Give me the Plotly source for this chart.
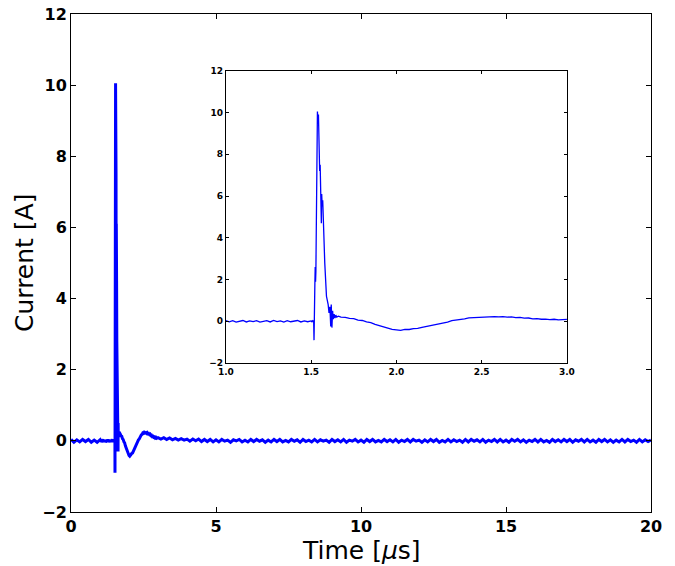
import plotly.graph_objects as go

# time axis in microseconds, current in amperes
t_pre = [0.0, 0.1, 0.2, 0.3, 0.4, 0.5, 0.6, 0.7, 0.8, 0.9,
         1.0, 1.02, 1.04, 1.06, 1.08, 1.10, 1.12, 1.14, 1.16, 1.18,
         1.20, 1.22, 1.24, 1.26, 1.28, 1.30, 1.32, 1.34, 1.36, 1.38,
         1.40, 1.42, 1.44, 1.46, 1.48, 1.50]
i_pre = [0.04, -0.04, 0.03, -0.03, 0.04, -0.02, 0.04, -0.04, 0.02, -0.04,
         0.03, -0.02, 0.03, -0.04, 0.01, 0.04, -0.03, 0.02, -0.01, 0.03,
         -0.04, 0.01, 0.03, -0.03, 0.04, -0.01, 0.02, -0.04, 0.03, -0.02,
         0.01, 0.04, -0.03, 0.02, -0.02, 0.02]

t_pulse = [1.505, 1.51, 1.515, 1.517, 1.522, 1.524, 1.526, 1.528, 1.537, 1.54,
           1.543, 1.546, 1.55, 1.553, 1.556, 1.558, 1.56, 1.562, 1.565, 1.568,
           1.572, 1.58, 1.59, 1.60, 1.605, 1.61, 1.615, 1.618, 1.622, 1.626,
           1.63, 1.635, 1.64, 1.645, 1.65, 1.66]
i_pulse = [-0.02, 0.03, 0.0, -0.9, 1.8, 2.6, 1.9, 2.4, 10.05, 9.6,
           9.9, 8.5, 7.2, 7.5, 5.0, 6.0, 4.7, 6.1, 5.5, 5.8,
           4.5, 2.8, 1.2, 0.8, 0.4, 0.7, -0.25, 0.8, -0.3, 0.5,
           0.1, 0.35, 0.15, 0.3, 0.2, 0.25]

t_decay = [1.675, 1.70, 1.725, 1.75, 1.775, 1.80, 1.825, 1.85, 1.875,
           1.90, 1.925, 1.95, 1.975, 2.00, 2.025, 2.05, 2.075, 2.10, 2.125,
           2.15, 2.175, 2.20, 2.225, 2.25, 2.275, 2.30, 2.325, 2.35, 2.375,
           2.40, 2.425, 2.45, 2.475, 2.50, 2.525, 2.55, 2.575, 2.60, 2.625,
           2.65, 2.675, 2.70, 2.725, 2.75, 2.775, 2.80, 2.825, 2.85, 2.875,
           2.90, 2.925, 2.95, 2.975]
i_decay = [0.20, 0.19, 0.14, 0.13, 0.06, 0.04, -0.03, -0.06, -0.14,
           -0.19, -0.26, -0.32, -0.39, -0.41, -0.43, -0.39, -0.39, -0.35, -0.34,
           -0.29, -0.25, -0.21, -0.15, -0.13, -0.06, -0.04, 0.03, 0.05, 0.10,
           0.12, 0.17, 0.18, 0.22, 0.21, 0.24, 0.22, 0.23, 0.21, 0.23,
           0.20, 0.21, 0.18, 0.19, 0.15, 0.16, 0.12, 0.13, 0.10, 0.11,
           0.08, 0.10, 0.07, 0.08]

t_tail = [3.0, 3.1, 3.2, 3.3, 3.4, 3.5, 3.6, 3.7, 3.8, 3.9,
          4.0, 4.1, 4.2, 4.3, 4.4, 4.5, 4.6, 4.7, 4.8, 4.9,
          5.0, 5.1, 5.2, 5.3, 5.4, 5.5, 5.6, 5.7, 5.8, 5.9,
          6.0, 6.1, 6.2, 6.3, 6.4, 6.5, 6.6, 6.7, 6.8, 6.9,
          7.0, 7.1, 7.2, 7.3, 7.4, 7.5, 7.6, 7.7, 7.8, 7.9,
          8.0, 8.1, 8.2, 8.3, 8.4, 8.5, 8.6, 8.7, 8.8, 8.9,
          9.0, 9.1, 9.2, 9.3, 9.4, 9.5, 9.6, 9.7, 9.8, 9.9,
          10.0, 10.1, 10.2, 10.3, 10.4, 10.5, 10.6, 10.7, 10.8, 10.9,
          11.0, 11.1, 11.2, 11.3, 11.4, 11.5, 11.6, 11.7, 11.8, 11.9,
          12.0, 12.1, 12.2, 12.3, 12.4, 12.5, 12.6, 12.7, 12.8, 12.9,
          13.0, 13.1, 13.2, 13.3, 13.4, 13.5, 13.6, 13.7, 13.8, 13.9,
          14.0, 14.1, 14.2, 14.3, 14.4, 14.5, 14.6, 14.7, 14.8, 14.9,
          15.0, 15.1, 15.2, 15.3, 15.4, 15.5, 15.6, 15.7, 15.8, 15.9,
          16.0, 16.1, 16.2, 16.3, 16.4, 16.5, 16.6, 16.7, 16.8, 16.9,
          17.0, 17.1, 17.2, 17.3, 17.4, 17.5, 17.6, 17.7, 17.8, 17.9,
          18.0, 18.1, 18.2, 18.3, 18.4, 18.5, 18.6, 18.7, 18.8, 18.9,
          19.0, 19.1, 19.2, 19.3, 19.4, 19.5, 19.6, 19.7, 19.8, 19.9,
          20.0]
i_tail = [0.09, 0.05, 0.09, 0.04, 0.08, 0.03, 0.07, 0.02, 0.06, 0.02,
          0.05, -0.01, 0.05, 0.00, 0.05, -0.02, 0.04, -0.02, 0.04, -0.03,
          0.03, -0.03, 0.04, -0.01, 0.02, -0.04, 0.03, 0.00, 0.04, -0.03,
          0.02, -0.03, 0.04, -0.02, 0.04, -0.01, 0.03, -0.04, 0.02, -0.03,
          0.04, -0.02, 0.04, -0.03, 0.01, -0.03, 0.04, -0.01, 0.03, -0.04,
          0.04, -0.02, 0.02, -0.03, 0.04, -0.03, 0.03, -0.01, 0.02, -0.04,
          0.04, -0.02, 0.03, -0.03, 0.04, -0.04, 0.02, -0.01, 0.04, -0.03,
          0.02, -0.04, 0.04, -0.02, 0.04, -0.03, 0.01, -0.03, 0.04, -0.02,
          0.03, -0.03, 0.04, -0.04, 0.02, -0.02, 0.04, -0.03, 0.04, -0.01,
          0.02, -0.04, 0.03, -0.03, 0.04, -0.02, 0.04, -0.04, 0.01, -0.03,
          0.04, -0.03, 0.03, -0.02, 0.02, -0.04, 0.04, -0.03, 0.04, -0.01,
          0.03, -0.03, 0.04, -0.04, 0.02, -0.02, 0.04, -0.03, 0.04, -0.03,
          0.02, -0.04, 0.04, -0.01, 0.04, -0.03, 0.03, -0.04, 0.02, -0.02,
          0.04, -0.03, 0.04, -0.03, 0.01, -0.04, 0.04, -0.02, 0.03, -0.03,
          0.04, -0.02, 0.04, -0.04, 0.03, -0.01, 0.04, -0.03, 0.04, -0.03,
          0.02, -0.04, 0.04, -0.02, 0.04, -0.03, 0.03, -0.04, 0.02, -0.03,
          0.04, -0.03, 0.04, -0.02, 0.02, -0.04, 0.04, -0.03, 0.03, -0.02,
          0.02]

main_xticks = [0, 5, 10, 15, 20]
inset_xticks = [1.0, 1.5, 2.0, 2.5, 3.0]
yticks = [-2, 0, 2, 4, 6, 8, 10, 12]

t_us = t_pre + t_pulse + t_decay + t_tail
current_a = i_pre + i_pulse + i_decay + i_tail

blue = "#0000ff"
fig = go.Figure()
fig.add_trace(go.Scatter(x=t_us, y=current_a, mode="lines",
                         line=dict(color=blue, width=3), xaxis="x", yaxis="y"))
fig.add_trace(go.Scatter(x=t_us, y=current_a, mode="lines",
                         line=dict(color=blue, width=1.3), xaxis="x2", yaxis="y2"))

frame = dict(showline=True, linecolor="black", linewidth=1, mirror="ticks",
             ticks="inside", ticklen=5, tickcolor="black", showgrid=False,
             zeroline=False, automargin=False, ticklabeloverflow="allow")
big = dict(family="DejaVu Sans", size=16, color="black", weight="bold")
small = dict(family="DejaVu Sans", size=9, color="black", weight="bold")
label_font = dict(family="DejaVu Sans", size=25, color="black")

fig.update_layout(
    width=675, height=566,
    margin=dict(l=71, r=24, t=14, b=54),
    paper_bgcolor="white", plot_bgcolor="white",
    showlegend=False,
    xaxis=dict(frame, range=[0, 20], tickvals=main_xticks, tickfont=big,
               domain=[0, 1], anchor="y"),
    yaxis=dict(frame, range=[-2, 12], tickvals=yticks, tickfont=big,
               domain=[0, 1], anchor="x"),
    xaxis2=dict(frame, range=[1, 3], tickvals=inset_xticks, tickformat=".1f",
                tickfont=small, ticklen=3, domain=[0.267, 0.855], anchor="y2"),
    yaxis2=dict(frame, range=[-2, 12], tickvals=yticks, tickfont=small, ticklen=3,
                domain=[0.299, 0.886], anchor="x2"),
    annotations=[
        dict(text="Time [<i>μ</i>s]", xref="paper", yref="paper", x=0.5, y=0,
             xanchor="center", yanchor="middle", yshift=-38, showarrow=False,
             font=label_font),
        dict(text="Current [A]", xref="paper", yref="paper", x=0, y=0.5,
             xanchor="center", yanchor="middle", xshift=-47, textangle=-90,
             showarrow=False, font=label_font),
    ],
)

# drop the browser's default 8px body margin so the figure fills the window
fig.write_html("out.html", config={"displayModeBar": False},
               post_script="document.body.style.margin = '0';")
